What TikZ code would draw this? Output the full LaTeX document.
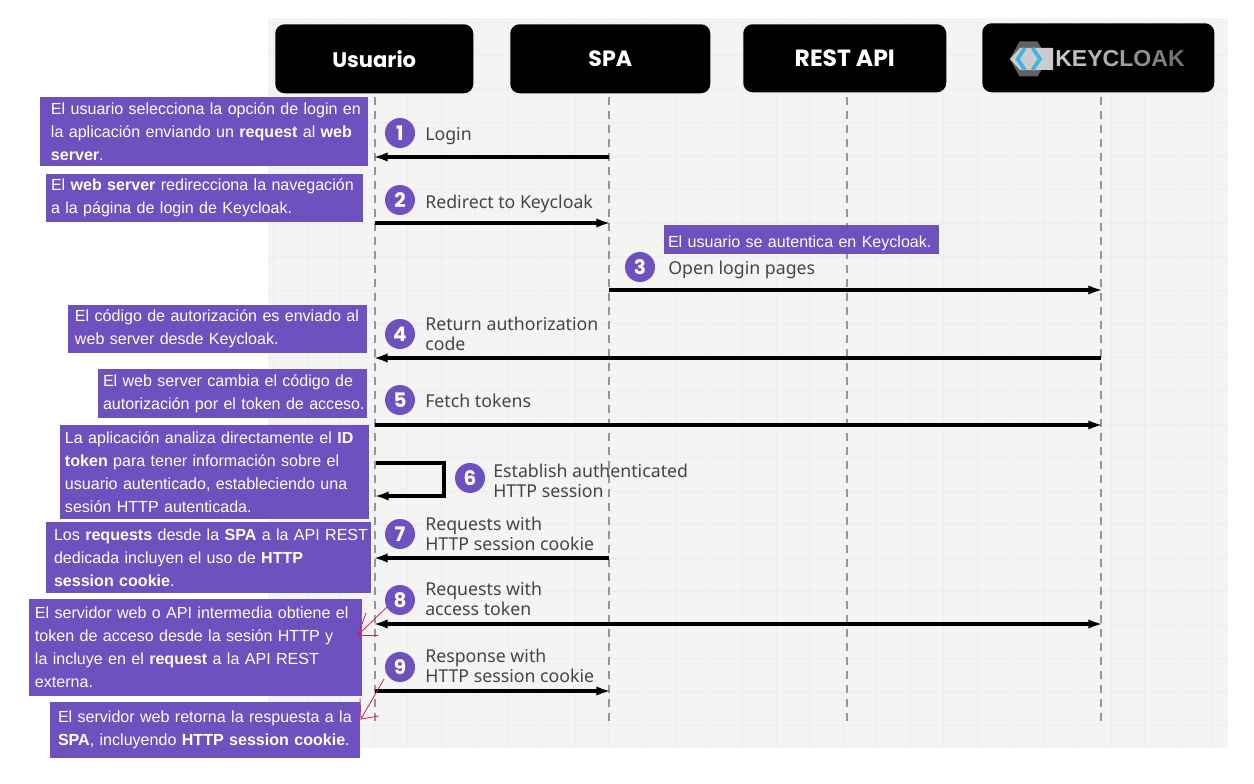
\documentclass[tikz,border=0pt]{standalone}
\usepackage{fontspec}
\setmainfont{Liberation Sans}
\newfontfamily\labelfont{Noto Sans}
\newfontfamily\headfont{Poppins}
\usetikzlibrary{arrows.meta}
\definecolor{notepurple}{HTML}{6E50BE}
\definecolor{panelgray}{HTML}{F4F4F4}
\definecolor{gridgray}{HTML}{EDEDED}
\definecolor{lifegray}{HTML}{969696}
\definecolor{labelgray}{HTML}{454545}
\definecolor{logoblue}{HTML}{3FB4E6}
\definecolor{markred}{HTML}{C8283C}

\begin{document}
\begin{tikzpicture}[
        x=0.75pt,y=-0.75pt,
        >={Latex[length=11pt,width=7pt]},
        headbox/.style={fill=black,text=white,rounded corners=7pt,anchor=north west,inner sep=0pt,font=\headfont\bfseries\fontsize{15.8}{18}\selectfont},
        notebox/.style={fill=notepurple,text=white,anchor=north west,align=left,inner sep=0pt,outer sep=0pt,font=\fontsize{12.05}{17.25}\selectfont},
        notepad/.style={execute at begin node={\leftskip=#1\relax}},
        stepdot/.style={circle,fill=notepurple,text=white,minimum size=22.5pt,inner sep=0pt,font=\headfont\bfseries\fontsize{15}{15}\selectfont},
        steplabel/.style={anchor=west,align=left,inner sep=0pt,text=labelgray,font=\labelfont\fontsize{13.3}{14.8}\selectfont},
        lifeline/.style={draw=lifegray,line width=1.1pt,dash pattern=on 6pt off 4.5pt},
        message/.style={->,line width=2.3pt,shorten >=-1.5pt},
        redmark/.style={draw=markred,line width=0.6pt}
    ]
        \useasboundingbox (0,0) rectangle (1254,784);
        % panel with its grid
        \fill[panelgray] (268,18) rectangle (1228,748);
        \foreach \x in {273.5,307,...,1228}
            \draw[gridgray,line width=0.5pt] (\x,18) -- (\x,748);
        \foreach \y in {22,55.5,...,748}
            \draw[gridgray,line width=0.5pt] (268,\y) -- (1228,\y);

        % lifelines
        \foreach \n/\x in {usuario/375,spa/609,rest/847,key/1101} {
            \coordinate (top\n) at (\x,97);
            \coordinate (bot\n) at (\x,725);
            \draw[lifeline] (top\n) -- (bot\n);
        }

        % headers
        \node[headbox,minimum width=148.5pt,minimum height=51.75pt] (usuario) at (275,24) {Usuario};
        \node[headbox,minimum width=150pt,minimum height=51.75pt,font=\headfont\bfseries\fontsize{16.6}{18}\selectfont] (spa) at (510,24) {SPA};
        \node[headbox,minimum width=152.25pt,minimum height=51pt,font=\headfont\bfseries\fontsize{17.6}{18}\selectfont] (rest) at (743,24) {REST API};
        \node[headbox,minimum width=174pt,minimum height=51.75pt] (key) at (982,23) {};

        % keycloak logo
        \fill[black!62] (1019.5,41.5) -- (1037.5,41.5) -- (1047.5,59) -- (1037.5,76.5) -- (1019.5,76.5) -- (1010,59) -- cycle;
        \fill[black!20] (1020,48) -- (1053,48) -- (1053,70) -- (1020,70) -- (1010,59) -- cycle;
        \draw[logoblue,line width=2.8pt] (1025,48) -- (1017.5,59) -- (1025,70);
        \draw[logoblue,line width=2.8pt] (1032.5,48) -- (1040,59) -- (1032.5,70);
        \node[anchor=west,inner sep=0pt,font=\bfseries\fontsize{17.3}{18}\selectfont] (keylogo) at (1055,59)
            {\textcolor{black!22}{K}\textcolor{black!25}{E}\textcolor{black!28}{Y}\textcolor{black!32}{C}\textcolor{black!38}{L}\textcolor{black!44}{O}\textcolor{black!50}{A}\textcolor{black!55}{K}};

        % messages
        \foreach \n/\a/\b/\y in {1/609/375/157,2/375/609/223,3/609/1101/290,4/1101/375/358,5/375/1101/425,7/609/375/558,9/375/609/691} {
            \coordinate (from\n) at (\a,\y);
            \coordinate (to\n) at (\b,\y);
            \draw[message] (from\n) -- (to\n);
        }
        \coordinate (from8) at (375,624);
        \coordinate (to8) at (1101,624);
        \draw[message,<->,shorten <=-1.5pt] (from8) -- (to8);
        \coordinate (from6) at (376,463);
        \coordinate (to6) at (376,496);
        \draw[message] (from6) -- (444,463) -- (444,496) -- (to6);

        % steps
        \foreach \n/\x/\y in {1/400/133,2/400/200,3/640/267,4/400/334,5/400/400,6/470/478,7/400/534,8/400/600,9/400/667}
            \node[stepdot] (step\n) at (\x,\y) {\n};
        \node[steplabel] (label1) at (425,136) {Login};
        \node[steplabel] (label2) at (425,204) {Redirect to Keycloak};
        \node[steplabel] (label3) at (668,270) {Open login pages};
        \node[steplabel] (label4) at (425,334) {Return authorization\\code};
        \node[steplabel] (label5) at (425,401) {Fetch tokens};
        \node[steplabel] (label6) at (493,481) {Establish authenticated\\HTTP session};
        \node[steplabel] (label7) at (425,534) {Requests with\\HTTP session cookie};
        \node[steplabel] (label8) at (425,599) {Requests with\\access token};
        \node[steplabel] (label9) at (425,666) {Response with\\HTTP session cookie};

        % notes
        \node[notebox,notepad=8.25pt,text width=246pt,minimum height=51.75pt] (note1) at (40,97)
            {El usuario selecciona la opción de login en\\la aplicación enviando un \textbf{request} al \textbf{web}\\\textbf{server}.};
        \node[notebox,notepad=3.75pt,text width=237.75pt,minimum height=36pt] (note2) at (46,174)
            {El \textbf{web server} redirecciona la navegación\\a la página de login de Keycloak.};
        \node[notebox,notepad=3pt,text width=206.25pt,minimum height=21.75pt,text height=15pt,text depth=2.5pt] (note3) at (664,225)
            {El usuario se autentica en Keycloak.};
        \node[notebox,notepad=5.25pt,text width=224.25pt,minimum height=36pt] (note4) at (68,305)
            {El código de autorización es enviado al\\web server desde Keycloak.};
        \node[notebox,notepad=3.75pt,text width=201.75pt,minimum height=36.75pt] (note5) at (98,369)
            {El web server cambia el código de\\autorización por el token de acceso.};
        \node[notebox,notepad=3.75pt,text width=231.75pt,minimum height=70.5pt] (note6) at (60,425)
            {La aplicación analiza directamente el \textbf{ID}\\\textbf{token} para tener información sobre el\\usuario autenticado, estableciendo una\\sesión HTTP autenticada.};
        \node[notebox,notepad=6pt,text width=243.75pt,minimum height=53.25pt] (note7) at (46,522)
            {Los \textbf{requests} desde la \textbf{SPA} a la API REST\\dedicada incluyen el uso de \textbf{HTTP}\\\textbf{session cookie}.};
        \node[notebox,notepad=4.5pt,text width=249.75pt,minimum height=72.75pt] (note8) at (29,599)
            {El servidor web o API intermedia obtiene el\\token de acceso desde la sesión HTTP y\\la incluye en el \textbf{request} a la API REST\\externa.};
        \node[notebox,notepad=6pt,text width=232.5pt,minimum height=42pt] (note9) at (50,702)
            {El servidor web retorna la respuesta a la\\\textbf{SPA}, incluyendo \textbf{HTTP session cookie}.};

        % red hand-drawn marks
        \coordinate (tip8) at (358,635);
        \coordinate (tip9) at (361,719);
        \draw[redmark] (step8) ++(-13,7) -- (tip8) -- (366,613);
        \draw[redmark] (tip8) -- (378,635);
        \draw[redmark] (step9) ++(-16,12) -- (tip9) -- (360,698);
        \draw[redmark] (tip9) -- (379,716);
    \end{tikzpicture}
\end{document}
